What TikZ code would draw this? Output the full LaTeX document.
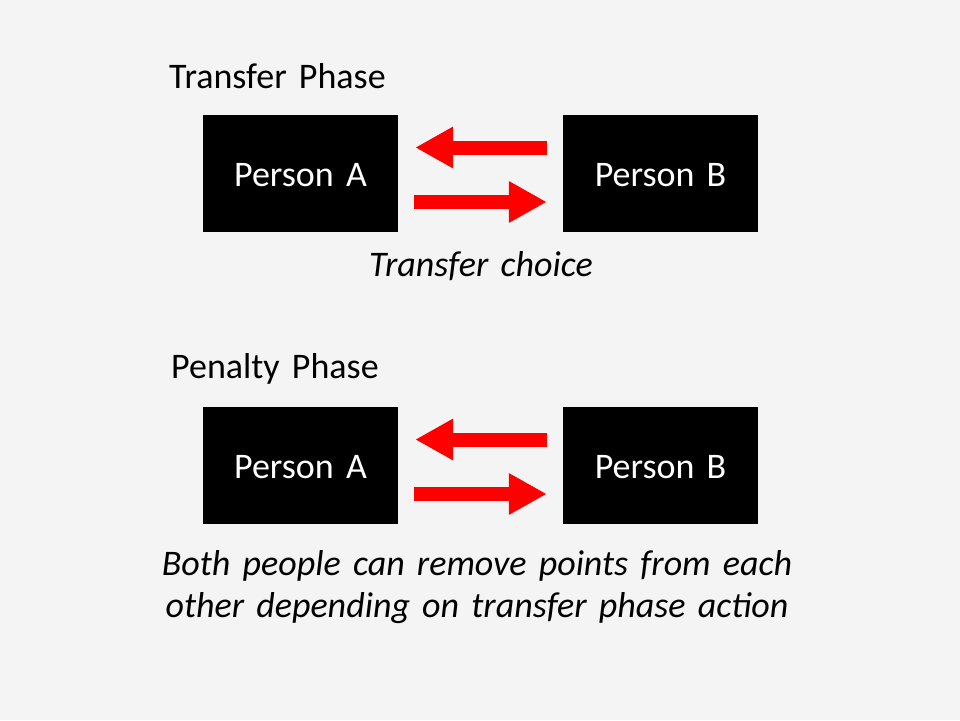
\documentclass[tikz,border=0pt]{standalone}
\usepackage{fontspec}
\setmainfont{Carlito}[WordSpace=1.5]
\usetikzlibrary{arrows.meta}
\definecolor{SlideGray}{RGB}{244,244,244}
\definecolor{ArrowRed}{RGB}{255,0,0}

\begin{document}
\begin{tikzpicture}[x=1pt,y=-1pt,
  person/.style={fill=black,text=white,minimum width=195pt,minimum height=117pt,inner sep=0pt,
    text height=26.4pt,text depth=0pt,font=\fontsize{36}{42}\selectfont},
  phase/.style={anchor=base west,inner sep=0pt,font=\fontsize{36}{42}\selectfont},
  note/.style={inner sep=0pt,align=center,font=\fontsize{36}{42}\selectfont\itshape},
  swap/.style={ArrowRed,line width=14pt,-{Triangle[length=38pt,width=39pt]}}]
\def\upshift{26pt}
\def\downshift{-28.5pt}
\fill[SlideGray] (0,0) rectangle (960,720);

% transfer phase
\node[phase] (tphase) at (169,88) {Transfer Phase};
\node[person] (A1) at (300.5,173.5) {Person A};
\node[person] (B1) at (660.5,173.5) {Person B};
\draw[swap,shorten <=16pt,shorten >=17pt] ([yshift=\upshift]B1.west) -- ([yshift=\upshift]A1.east);
\draw[swap,shorten <=16pt,shorten >=16pt] ([yshift=\downshift]A1.east) -- ([yshift=\downshift]B1.west);
\node[note,anchor=base] (tnote) at (481,276) {Transfer choice};

% penalty phase
\node[phase] (pphase) at (171,378) {Penalty Phase};
\node[person] (A2) at (300.5,465.5) {Person A};
\node[person] (B2) at (660.5,465.5) {Person B};
\draw[swap,shorten <=16pt,shorten >=17pt] ([yshift=\upshift]B2.west) -- ([yshift=\upshift]A2.east);
\draw[swap,shorten <=16pt,shorten >=16pt] ([yshift=\downshift]A2.east) -- ([yshift=\downshift]B2.west);
\node[note,anchor=base] (pnote) at (477,617) {Both people can remove points from each\\ other depending on transfer phase action};

\end{tikzpicture}
\end{document}
